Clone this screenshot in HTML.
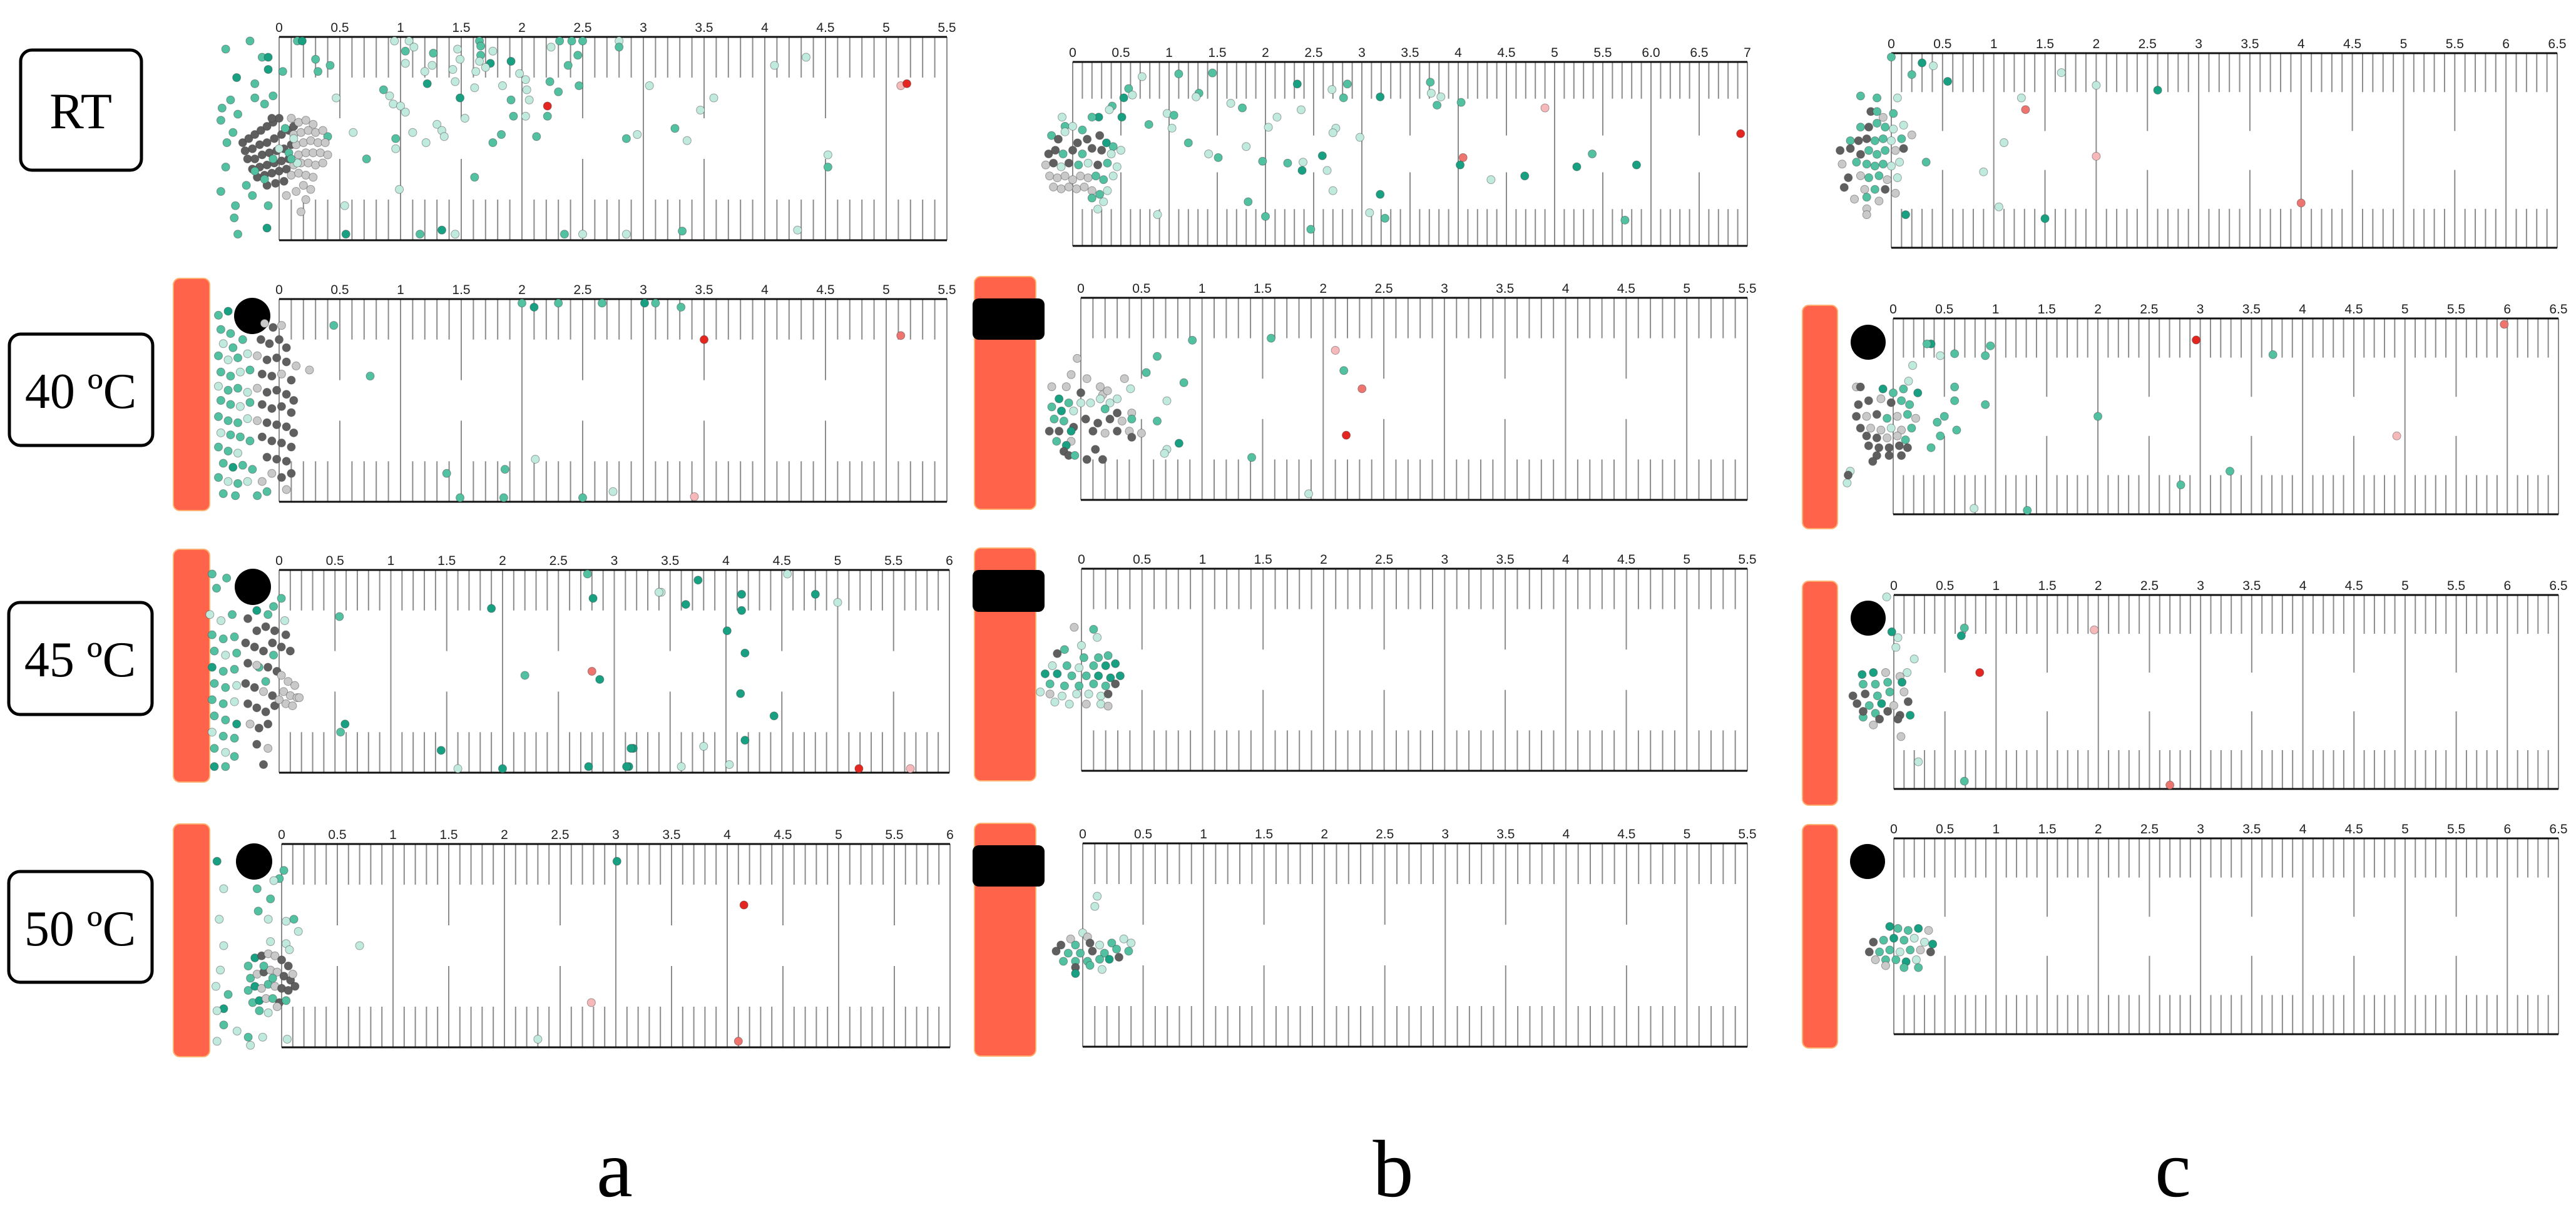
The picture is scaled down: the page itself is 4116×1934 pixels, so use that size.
<!DOCTYPE html>
<html><head><meta charset="utf-8"><style>
html,body{margin:0;padding:0;background:#fff;}
svg{display:block;}
.tl{font-family:"Liberation Sans",sans-serif;font-size:21px;fill:#222;text-anchor:middle;}
.cond{font-family:"Liberation Serif",serif;fill:#000;text-anchor:middle;}
</style></head><body>
<svg id="fig" width="4116" height="1934" viewBox="0 0 4116 1934" xmlns="http://www.w3.org/2000/svg">
<g>
<rect x="33" y="80" width="193" height="192" rx="18" fill="#fff" stroke="#000" stroke-width="5"/>
<text class="cond" x="129" y="205" font-size="82">RT</text>
<rect x="15" y="534" width="229" height="178" rx="18" fill="#fff" stroke="#000" stroke-width="5"/>
<text class="cond" x="129" y="652" font-size="80">40 ºC</text>
<rect x="14" y="963" width="229" height="179" rx="18" fill="#fff" stroke="#000" stroke-width="5"/>
<text class="cond" x="128" y="1081" font-size="80">45 ºC</text>
<rect x="14" y="1393" width="229" height="177" rx="18" fill="#fff" stroke="#000" stroke-width="5"/>
<text class="cond" x="128" y="1511" font-size="80">50 ºC</text>
</g>
<g>
<rect x="277" y="445" width="58" height="371" rx="10" fill="#ff634a" stroke="#ffb070" stroke-width="2"/>
<rect x="277" y="878" width="58" height="372" rx="10" fill="#ff634a" stroke="#ffb070" stroke-width="2"/>
<rect x="277" y="1317" width="58" height="372" rx="10" fill="#ff634a" stroke="#ffb070" stroke-width="2"/>
<rect x="1557" y="442" width="98" height="372" rx="10" fill="#ff634a" stroke="#ffb070" stroke-width="2"/>
<rect x="1557" y="876" width="98" height="372" rx="10" fill="#ff634a" stroke="#ffb070" stroke-width="2"/>
<rect x="1557" y="1316" width="98" height="372" rx="10" fill="#ff634a" stroke="#ffb070" stroke-width="2"/>
<rect x="2880" y="488" width="56" height="357" rx="10" fill="#ff634a" stroke="#ffb070" stroke-width="2"/>
<rect x="2880" y="929" width="56" height="358" rx="10" fill="#ff634a" stroke="#ffb070" stroke-width="2"/>
<rect x="2880" y="1318" width="56" height="357" rx="10" fill="#ff634a" stroke="#ffb070" stroke-width="2"/>
<circle cx="403" cy="505" r="29" fill="#000"/>
<circle cx="404" cy="938" r="29" fill="#000"/>
<circle cx="406" cy="1377" r="29" fill="#000"/>
<rect x="1554" y="477" width="115" height="66" rx="10" fill="#000"/>
<rect x="1554" y="911" width="115" height="67" rx="10" fill="#000"/>
<rect x="1554" y="1351" width="115" height="66" rx="10" fill="#000"/>
<circle cx="2985" cy="547" r="28" fill="#000"/>
<circle cx="2985" cy="988" r="28" fill="#000"/>
<circle cx="2984" cy="1377" r="28" fill="#000"/>
</g>
<text class="cond" x="982" y="1912" font-size="130">a</text>
<text class="cond" x="2226" y="1912" font-size="130">b</text>
<text class="cond" x="3472" y="1912" font-size="130">c</text>
</svg>
<script>
// ruler scales (max value per ruler)
const rulerMax = {aRT:5.5,a40:5.5,a45:6,a50:6,bRT:7,b40:5.5,b45:5.5,b50:5.5,cRT:6.5,c40:6.5,c45:6.5,c50:6.5};
const ticksBRT = ["0","0.5","1","1.5","2","2.5","3","3.5","4","4.5","5","5.5","6.0","6.5","7"];
// particle positions: [distance, vertical fraction, type]
const pts_aRT = [[0.15,.02,'M'],[0.19,.02,'D'],[0.95,.02,'L'],[1.07,.02,'L'],[1.04,.07,'M'],[1.11,.05,'L'],[1.27,.08,'M'],[1.26,.14,'L'],[1.04,.13,'L'],[1.2,.17,'L'],[1.22,.23,'D'],[1.47,.06,'L'],[1.49,.11,'L'],[1.43,.16,'L'],[1.45,.22,'L'],[1.49,.3,'D'],[1.53,.4,'L'],[1.65,.02,'M'],[1.66,.045,'M'],[1.66,.09,'M'],[1.65,.12,'L'],[1.62,.17,'L'],[1.76,.07,'L'],[1.74,.13,'D'],[1.7,.15,'L'],[1.61,.25,'L'],[1.91,.12,'D'],[1.98,.18,'L'],[2.03,.21,'L'],[2.04,.26,'L'],[2.06,.31,'L'],[1.91,.31,'M'],[1.93,.39,'M'],[2.03,.39,'L'],[1.84,.24,'L'],[2.21,.34,'R'],[2.24,.05,'L'],[2.31,.02,'M'],[2.41,.02,'M'],[2.5,.02,'M'],[2.46,.09,'M'],[2.38,.14,'M'],[2.23,.22,'M'],[2.3,.27,'M'],[2.47,.24,'M'],[2.21,.39,'M'],[2.8,.02,'L'],[2.8,.05,'M'],[3.05,.24,'L'],[3.58,.3,'L'],[3.47,.36,'L'],[3.26,.45,'M'],[3.36,.51,'L'],[2.95,.48,'L'],[2.86,.5,'M'],[4.08,.14,'L'],[4.34,.1,'L'],[5.12,.24,'P'],[5.17,.23,'R'],[4.52,.58,'L'],[4.52,.64,'M'],[0.86,.26,'M'],[0.91,.29,'L'],[0.94,.33,'L'],[1.0,.34,'L'],[1.04,.37,'L'],[0.47,.3,'L'],[0.61,.47,'L'],[0.72,.6,'M'],[0.96,.5,'M'],[0.96,.55,'L'],[1.1,.47,'L'],[1.21,.52,'L'],[1.3,.43,'L'],[1.34,.46,'L'],[1.36,.49,'L'],[1.61,.69,'M'],[0.99,.75,'L'],[1.76,.52,'M'],[1.83,.48,'M'],[2.12,.49,'M'],[0.54,.83,'L'],[0.55,.97,'D'],[1.16,.97,'M'],[1.34,.95,'D'],[1.45,.97,'L'],[2.35,.97,'M'],[2.5,.97,'L'],[2.86,.97,'L'],[3.32,.955,'M'],[4.27,.95,'L'],[0.03,.17,'M'],[0.3,.11,'M'],[0.32,.17,'M'],[0.42,.14,'M'],[0.4,.49,'M'],[-0.24,.02,'M'],[-0.44,.06,'M'],[-0.14,.1,'M'],[-0.09,.1,'D'],[-0.09,.16,'D'],[-0.35,.2,'D'],[-0.2,.23,'M'],[-0.05,.29,'M'],[-0.2,.3,'M'],[-0.12,.33,'M'],[-0.4,.31,'M'],[-0.47,.35,'M'],[-0.34,.38,'M'],[-0.48,.41,'M'],[-0.38,.47,'M'],[-0.43,.52,'M'],[-0.44,.64,'M'],[-0.48,.76,'M'],[-0.36,.83,'M'],[-0.37,.89,'M'],[-0.34,.97,'M'],[-0.1,.94,'D'],[-0.09,.83,'M'],[-0.22,.78,'M'],[-0.27,.73,'M'],
[-0.3,.52,'G'],[-0.25,.5,'G'],[-0.2,.48,'G'],[-0.15,.46,'G'],[-0.1,.44,'G'],[-0.05,.42,'G'],[0,.4,'G'],[-0.28,.56,'G'],[-0.22,.55,'G'],[-0.16,.53,'G'],[-0.1,.52,'G'],[-0.04,.5,'G'],[0.02,.48,'G'],[0.08,.46,'G'],[-0.26,.6,'G'],[-0.2,.6,'G'],[-0.14,.58,'G'],[-0.08,.57,'G'],[-0.02,.56,'G'],[0.04,.55,'G'],[0.1,.53,'G'],[-0.22,.65,'G'],[-0.16,.64,'G'],[-0.1,.63,'G'],[-0.04,.62,'G'],[0.02,.61,'G'],[0.08,.6,'G'],[-0.18,.69,'G'],[-0.12,.68,'G'],[-0.06,.67,'G'],[0,.66,'G'],[0.06,.65,'G'],[-0.1,.73,'G'],[-0.03,.72,'G'],[0.04,.71,'G'],[-0.06,.4,'G'],[0.12,.44,'G'],
[0.1,.4,'g'],[0.16,.42,'g'],[0.22,.41,'g'],[0.28,.43,'g'],[0.12,.48,'g'],[0.18,.47,'g'],[0.24,.46,'g'],[0.3,.47,'g'],[0.36,.46,'g'],[0.14,.53,'g'],[0.2,.52,'g'],[0.26,.51,'g'],[0.32,.52,'g'],[0.38,.52,'g'],[0.16,.58,'g'],[0.22,.57,'g'],[0.28,.57,'g'],[0.34,.57,'g'],[0.4,.58,'g'],[0.12,.63,'g'],[0.18,.62,'g'],[0.24,.62,'g'],[0.3,.63,'g'],[0.36,.62,'g'],[0.1,.68,'g'],[0.16,.67,'g'],[0.22,.68,'g'],[0.28,.69,'g'],[0.2,.73,'g'],[0.26,.75,'g'],[0.14,.76,'g'],[0.22,.8,'g'],[0.06,.78,'g'],[0.18,.86,'g'],
[0.05,.45,'M'],[0.12,.5,'L'],[0.0,.55,'L'],[0.08,.57,'M'],[0.15,.62,'L'],[-0.05,.6,'M'],[-0.2,.66,'M'],[-0.12,.7,'M'],[0.1,.6,'M']];
const pts_a40 = [[2.0,.02,'M'],[2.1,.04,'D'],[2.3,.02,'M'],[2.66,.02,'M'],[3.01,.02,'D'],[3.1,.02,'M'],[3.31,.04,'M'],[0.45,.13,'M'],[3.5,.2,'R'],[5.12,.18,'S'],[0.75,.38,'M'],[2.11,.79,'L'],[1.38,.86,'M'],[1.86,.84,'M'],[1.49,.98,'M'],[1.85,.98,'M'],[2.5,.98,'M'],[2.75,.95,'L'],[3.42,.975,'P'],[0.25,.35,'g'],
[-0.5,.08,'M'],[-0.42,.06,'D'],[-0.48,.15,'M'],[-0.4,.17,'M'],[-0.46,.22,'L'],[-0.38,.24,'M'],[-0.3,.2,'M'],[-0.5,.28,'M'],[-0.42,.3,'L'],[-0.34,.29,'M'],[-0.26,.27,'L'],[-0.48,.36,'M'],[-0.4,.38,'M'],[-0.32,.36,'L'],[-0.24,.35,'M'],[-0.5,.43,'L'],[-0.42,.45,'M'],[-0.34,.44,'M'],[-0.26,.46,'L'],[-0.48,.5,'M'],[-0.4,.52,'M'],[-0.32,.53,'L'],[-0.24,.51,'M'],[-0.5,.58,'M'],[-0.42,.6,'M'],[-0.34,.61,'M'],[-0.26,.59,'L'],[-0.48,.66,'L'],[-0.4,.67,'M'],[-0.32,.68,'M'],[-0.24,.7,'M'],[-0.5,.73,'M'],[-0.42,.75,'M'],[-0.34,.76,'L'],[-0.46,.81,'M'],[-0.38,.83,'D'],[-0.3,.82,'M'],[-0.22,.84,'M'],[-0.5,.88,'M'],[-0.42,.9,'L'],[-0.34,.91,'M'],[-0.26,.9,'L'],[-0.46,.96,'M'],[-0.36,.97,'M'],[-0.18,.97,'M'],[-0.1,.95,'M'],
[-0.12,.12,'g'],[-0.05,.14,'G'],[0.02,.13,'g'],[-0.15,.2,'G'],[-0.08,.22,'G'],[0,.2,'G'],[0.06,.24,'G'],[-0.18,.28,'g'],[-0.1,.3,'G'],[-0.02,.29,'G'],[0.06,.31,'G'],[0.14,.33,'g'],[-0.14,.37,'G'],[-0.06,.38,'G'],[0.02,.37,'g'],[0.1,.4,'G'],[-0.18,.44,'g'],[-0.1,.46,'G'],[-0.02,.45,'G'],[0.06,.47,'G'],[0.12,.5,'G'],[-0.14,.52,'G'],[-0.06,.54,'G'],[0.02,.53,'G'],[0.1,.56,'G'],[-0.18,.6,'g'],[-0.1,.61,'G'],[-0.02,.62,'G'],[0.06,.63,'G'],[0.12,.66,'G'],[-0.14,.68,'G'],[-0.06,.7,'G'],[0.02,.71,'G'],[0.1,.73,'G'],[-0.1,.78,'G'],[-0.02,.79,'G'],[0.06,.8,'G'],[0.1,.86,'G'],[-0.06,.86,'g'],[0.02,.88,'G'],[-0.14,.9,'g'],[0.06,.94,'g']];
const pts_a45 = [[2.76,.02,'M'],[2.81,.14,'D'],[1.9,.19,'D'],[3.42,.11,'L'],[0.54,.23,'M'],[2.2,.52,'M'],[2.8,.5,'S'],[2.87,.54,'D'],[0.59,.76,'D'],[0.55,.8,'M'],[1.45,.89,'D'],[1.6,.98,'L'],[2.0,.98,'D'],[2.77,.97,'D'],[3.13,.97,'D'],[3.17,.88,'D'],[3.75,.05,'D'],[3.4,.11,'L'],[3.64,.17,'D'],[4.14,.12,'D'],[4.14,.2,'D'],[4.55,.02,'L'],[4.8,.12,'D'],[5.0,.16,'L'],[4.01,.3,'D'],[4.17,.41,'D'],[4.13,.61,'D'],[4.43,.72,'D'],[4.17,.84,'D'],[3.8,.87,'L'],[3.15,.88,'D'],[3.11,.97,'D'],[3.6,.97,'L'],[4.03,.96,'L'],[5.19,.98,'R'],[5.65,.98,'P'],
[-0.6,.02,'M'],[-0.47,.04,'M'],[-0.56,.09,'M'],[-0.62,.22,'L'],[-0.52,.25,'L'],[-0.42,.22,'M'],[-0.6,.32,'M'],[-0.5,.34,'M'],[-0.4,.33,'M'],[-0.58,.4,'M'],[-0.48,.42,'L'],[-0.38,.41,'M'],[-0.6,.48,'D'],[-0.5,.5,'M'],[-0.4,.49,'M'],[-0.58,.56,'M'],[-0.48,.58,'M'],[-0.38,.57,'L'],[-0.6,.64,'M'],[-0.5,.66,'M'],[-0.4,.65,'L'],[-0.58,.72,'M'],[-0.48,.74,'M'],[-0.38,.76,'D'],[-0.6,.8,'L'],[-0.5,.82,'M'],[-0.4,.83,'M'],[-0.58,.88,'M'],[-0.48,.9,'L'],[-0.4,.92,'M'],[-0.58,.97,'D'],[-0.48,.97,'M'],[-0.2,.2,'D'],[-0.1,.22,'M'],[-0.18,.48,'M'],[-0.12,.55,'M'],[-0.05,.42,'M'],[0.05,.25,'L'],[-0.05,.18,'M'],[0.02,.14,'M'],
[-0.28,.24,'G'],[-0.2,.3,'G'],[-0.12,.28,'G'],[-0.04,.3,'G'],[0.06,.32,'G'],[-0.3,.36,'G'],[-0.22,.38,'G'],[-0.14,.4,'G'],[-0.06,.36,'G'],[0.02,.38,'G'],[0.1,.4,'G'],[-0.28,.46,'G'],[-0.2,.47,'g'],[-0.1,.48,'G'],[-0.02,.5,'G'],[-0.3,.56,'G'],[-0.22,.58,'G'],[-0.14,.6,'g'],[-0.06,.62,'G'],[-0.28,.66,'G'],[-0.2,.68,'G'],[-0.12,.7,'G'],[-0.04,.67,'G'],[-0.26,.76,'g'],[-0.18,.78,'G'],[-0.1,.76,'G'],[-0.2,.86,'G'],[-0.1,.88,'g'],[-0.14,.96,'G'],[0.02,.52,'g'],[0.08,.55,'g'],[0.14,.57,'g'],[0.04,.6,'g'],[0.1,.62,'g'],[0.16,.63,'g'],[0.06,.66,'g'],[0.12,.67,'g'],[0.18,.63,'g'],[0.0,.64,'g']];
const pts_a50 = [[3.01,.085,'D'],[0.7,.5,'L'],[2.78,.78,'P'],[2.3,.96,'L'],[0.05,.96,'L'],[4.15,.3,'R'],[4.1,.97,'S'],[-0.58,.085,'D'],[-0.52,.22,'L'],[-0.22,.22,'M'],[-0.1,.27,'M'],[0.02,.13,'M'],[-0.02,.17,'M'],[-0.07,.18,'L'],[-0.21,.33,'M'],[-0.56,.37,'L'],[-0.12,.37,'L'],[0.04,.38,'L'],[0.11,.37,'M'],[0.15,.43,'L'],[-0.52,.5,'L'],[-0.1,.48,'L'],[0.04,.49,'L'],[0.07,.52,'L'],[-0.55,.62,'L'],[-0.59,.7,'L'],[-0.48,.74,'M'],[-0.52,.81,'D'],[-0.58,.82,'L'],[-0.52,.89,'M'],[-0.4,.92,'L'],[-0.28,.99,'L'],[-0.17,.95,'L'],[-0.58,.97,'L'],[-0.3,.95,'M'],
[-0.3,.6,'M'],[-0.24,.56,'D'],[-0.18,.55,'G'],[-0.12,.54,'g'],[-0.06,.55,'g'],[0,.57,'G'],[0.06,.6,'G'],[-0.28,.66,'M'],[-0.22,.64,'g'],[-0.16,.63,'G'],[-0.1,.62,'g'],[-0.04,.63,'g'],[0.02,.65,'G'],[0.08,.67,'G'],[-0.3,.72,'M'],[-0.24,.7,'D'],[-0.18,.71,'g'],[-0.12,.69,'M'],[-0.06,.7,'g'],[0,.71,'G'],[0.06,.72,'G'],[0.12,.7,'G'],[-0.26,.78,'M'],[-0.2,.77,'D'],[-0.14,.76,'g'],[-0.08,.76,'M'],[-0.02,.78,'G'],[0.04,.77,'M'],[-0.2,.82,'M'],[-0.12,.83,'L'],[-0.04,.8,'g'],[-0.16,.6,'M'],[-0.08,.66,'M'],[0.1,.64,'g']];
const pts_bRT = [[0.72,.08,'L'],[1.1,.065,'M'],[1.45,.06,'M'],[0.58,.145,'M'],[0.62,.18,'L'],[0.53,.195,'D'],[0.41,.24,'M'],[0.38,.26,'L'],[0.27,.3,'D'],[0.2,.3,'M'],[0.51,.3,'D'],[-0.11,.3,'L'],[-0.08,.35,'M'],[0,.35,'L'],[0.1,.37,'M'],[0.79,.34,'M'],[0.98,.28,'L'],[1.05,.29,'M'],[1.03,.36,'L'],[1.2,.44,'M'],[1.31,.17,'M'],[1.28,.19,'L'],[1.64,.225,'L'],[1.76,.25,'M'],[1.41,.5,'L'],[1.51,.52,'M'],[1.8,.46,'L'],[1.97,.54,'M'],[1.82,.76,'M'],[2.0,.84,'M'],[0.88,.83,'L'],[2.12,.3,'L'],[2.03,.355,'L'],[2.33,.12,'D'],[2.37,.26,'L'],[2.23,.55,'M'],[2.39,.545,'L'],[2.38,.59,'D'],[2.59,.51,'D'],[2.64,.59,'L'],[2.7,.7,'L'],[2.47,.91,'M'],[2.69,.15,'L'],[2.81,.195,'M'],[2.85,.12,'M'],[2.73,.36,'L'],[2.7,.385,'L'],[2.98,.41,'L'],[3.19,.19,'D'],[3.19,.72,'D'],[3.08,.82,'L'],[3.24,.85,'M'],[3.71,.11,'M'],[3.72,.17,'L'],[3.82,.19,'L'],[3.78,.235,'M'],[4.03,.22,'M'],[4.05,.52,'S'],[4.02,.56,'D'],[4.34,.64,'L'],[4.69,.62,'D'],[4.9,.25,'P'],[6.93,.39,'R'],[5.39,.5,'M'],[5.23,.57,'D'],[5.85,.56,'D'],[5.73,.86,'M'],
[-0.22,.4,'M'],[-0.15,.42,'G'],[-0.08,.38,'L'],[0.05,.44,'G'],[0.15,.42,'G'],[0.28,.4,'G'],[0.35,.44,'D'],[0.42,.46,'M'],[-0.25,.5,'G'],[-0.18,.48,'G'],[-0.1,.5,'M'],[0,.48,'G'],[0.1,.5,'M'],[0.2,.47,'G'],[0.3,.48,'G'],[0.4,.5,'L'],[0.5,.48,'L'],[-0.28,.56,'g'],[-0.2,.55,'G'],[-0.12,.57,'L'],[-0.04,.55,'G'],[0.06,.56,'M'],[0.16,.55,'L'],[0.26,.56,'G'],[0.36,.55,'M'],[0.46,.57,'L'],[-0.24,.62,'g'],[-0.16,.63,'g'],[-0.08,.62,'g'],[0,.64,'g'],[0.08,.62,'g'],[0.16,.63,'g'],[0.24,.62,'M'],[0.32,.64,'M'],[0.42,.62,'L'],[-0.2,.68,'g'],[-0.12,.69,'g'],[-0.04,.68,'g'],[0.04,.69,'g'],[0.12,.68,'g'],[0.2,.7,'g'],[0.28,.72,'M'],[0.36,.7,'L'],[0.32,.76,'L'],[0.26,.8,'L'],[0.2,.74,'M']];
const pts_b40 = [[0.92,.21,'M'],[1.57,.2,'M'],[0.63,.29,'M'],[0.54,.37,'M'],[0.85,.42,'M'],[0.71,.51,'L'],[0.63,.61,'M'],[0.81,.72,'D'],[0.71,.75,'L'],[0.69,.77,'L'],[1.41,.79,'M'],[1.88,.97,'L'],[2.1,.26,'P'],[2.17,.36,'M'],[2.32,.45,'S'],[2.19,.68,'R'],[0.41,.45,'L'],[0.36,.4,'g'],
[-0.03,.3,'g'],[-0.08,.38,'g'],[0.05,.4,'g'],[-0.24,.44,'g'],[-0.12,.44,'g'],[0.0,.47,'G'],[0.16,.44,'g'],[0.18,.48,'g'],[0.22,.46,'g'],[-0.18,.5,'D'],[-0.1,.52,'M'],[0.0,.52,'L'],[0.08,.52,'L'],[0.16,.5,'L'],[0.24,.52,'L'],[0.3,.5,'L'],[-0.24,.54,'M'],[-0.16,.56,'D'],[-0.06,.56,'L'],[0.2,.55,'M'],[0.3,.57,'G'],[0.42,.57,'g'],[-0.22,.6,'M'],[-0.14,.61,'M'],[-0.06,.64,'G'],[0.04,.6,'G'],[0.14,.62,'G'],[0.24,.6,'G'],[0.34,.61,'g'],[0.42,.6,'M'],[-0.26,.66,'G'],[-0.18,.66,'G'],[-0.08,.66,'D'],[0.1,.66,'G'],[0.2,.67,'g'],[0.3,.66,'G'],[0.4,.66,'g'],[-0.2,.71,'M'],[-0.08,.71,'g'],[0.42,.69,'G'],[0.5,.67,'g'],[-0.12,.73,'D'],[-0.14,.76,'G'],[-0.1,.78,'G'],[-0.05,.78,'M'],[0.05,.8,'G'],[0.18,.8,'G'],[0.12,.75,'G']];
const pts_b45 = [[-0.06,.29,'g'],[0.1,.3,'M'],[0.13,.34,'L'],[0.0,.38,'L'],[-0.2,.42,'G'],[-0.14,.4,'M'],[0.02,.44,'M'],[0.14,.44,'M'],[0.22,.43,'M'],[-0.24,.48,'L'],[-0.12,.48,'M'],[-0.02,.49,'L'],[0.1,.48,'M'],[0.2,.48,'D'],[0.28,.47,'D'],[-0.3,.52,'D'],[-0.2,.52,'D'],[-0.08,.53,'M'],[0.04,.53,'M'],[0.14,.53,'D'],[0.24,.54,'D'],[0.32,.53,'D'],[-0.26,.57,'M'],[-0.14,.58,'M'],[-0.02,.58,'M'],[0.1,.57,'M'],[0.2,.58,'M'],[0.28,.57,'G'],[-0.34,.61,'L'],[-0.26,.62,'g'],[-0.16,.63,'L'],[-0.04,.62,'L'],[0.06,.62,'L'],[0.16,.63,'L'],[0.22,.62,'G'],[-0.22,.66,'L'],[-0.1,.67,'L'],[0.04,.67,'g'],[0.16,.67,'L'],[0.22,.68,'g']];
const pts_b50 = [[0.12,.26,'L'],[0.1,.31,'L'],[0.0,.44,'L'],[0.04,.46,'g'],[-0.1,.47,'g'],[-0.18,.5,'G'],[-0.06,.5,'M'],[0.06,.49,'G'],[0.14,.5,'L'],[0.24,.49,'M'],[0.34,.47,'L'],[0.4,.49,'L'],[-0.22,.53,'G'],[-0.12,.54,'M'],[-0.02,.54,'M'],[0.08,.53,'G'],[0.18,.54,'M'],[0.28,.52,'M'],[0.38,.53,'M'],[-0.16,.58,'M'],[-0.06,.58,'M'],[0.04,.58,'M'],[0.14,.57,'M'],[0.22,.57,'D'],[0.3,.56,'G'],[-0.06,.61,'G'],[0.06,.6,'M'],[-0.06,.64,'D'],[0.16,.62,'L']];
const pts_cRT = [[0,.02,'M'],[0.3,.05,'D'],[0.41,.065,'L'],[0.2,.11,'M'],[0.55,.145,'D'],[1.66,.1,'L'],[2.0,.165,'L'],[2.6,.19,'D'],[1.27,.23,'L'],[1.31,.29,'S'],[0.06,.23,'L'],[1.1,.46,'L'],[0.9,.61,'L'],[2.0,.53,'P'],[4.0,.77,'S'],[1.05,.79,'L'],[1.5,.85,'D'],[0.14,.83,'D'],[0.34,.56,'M'],[-0.3,.22,'M'],[-0.14,.23,'M'],
[-0.2,.3,'G'],[-0.14,.3,'M'],[-0.08,.33,'g'],[0.02,.31,'M'],[-0.3,.38,'M'],[-0.22,.38,'G'],[-0.14,.36,'M'],[-0.06,.38,'M'],[0.02,.39,'L'],[0.12,.37,'L'],[-0.4,.45,'M'],[-0.32,.45,'G'],[-0.24,.44,'G'],[-0.16,.45,'M'],[-0.08,.44,'M'],[0.0,.45,'L'],[0.1,.44,'M'],[0.2,.42,'g'],[-0.5,.5,'G'],[-0.4,.49,'G'],[-0.3,.52,'G'],[-0.22,.5,'M'],[-0.14,.52,'M'],[-0.06,.5,'M'],[0.04,.5,'g'],[0.12,.49,'G'],[-0.48,.57,'g'],[-0.34,.56,'M'],[-0.24,.57,'M'],[-0.16,.58,'M'],[-0.08,.57,'M'],[0.0,.58,'L'],[0.08,.56,'L'],[-0.42,.64,'G'],[-0.3,.63,'g'],[-0.22,.64,'M'],[-0.12,.63,'M'],[-0.04,.65,'g'],[0.06,.64,'L'],[-0.46,.69,'G'],[-0.26,.7,'g'],[-0.16,.7,'M'],[-0.06,.7,'G'],[0.04,.72,'g'],[-0.36,.75,'g'],[-0.24,.74,'M'],[-0.12,.76,'g'],[-0.24,.8,'g'],[-0.24,.83,'g']];
const pts_c40 = [[2.96,.11,'R'],[5.97,.03,'S'],[3.71,.185,'M'],[2.0,.5,'M'],[4.92,.6,'P'],[3.29,.78,'M'],[2.81,.85,'M'],[0.79,.97,'L'],[1.31,.98,'M'],[0.37,.13,'D'],[0.33,.13,'M'],[0.6,.18,'M'],[0.46,.19,'L'],[0.9,.19,'M'],[0.95,.14,'M'],[0.19,.24,'L'],[0.15,.32,'L'],[0.6,.35,'M'],[0.6,.42,'M'],[0.9,.44,'M'],[0.5,.5,'M'],[0.43,.53,'M'],[0.62,.57,'M'],[0.46,.6,'M'],[0.37,.66,'M'],[-0.42,.78,'L'],[-0.45,.84,'L'],[-0.44,.8,'G'],
[-0.36,.35,'g'],[-0.32,.35,'G'],[-0.1,.36,'D'],[0.0,.38,'M'],[0.1,.36,'M'],[0.24,.38,'D'],[-0.34,.44,'G'],[-0.24,.42,'G'],[-0.12,.41,'g'],[-0.02,.43,'G'],[0.08,.42,'M'],[0.16,.44,'M'],[-0.36,.5,'G'],[-0.26,.5,'g'],[-0.16,.49,'G'],[-0.06,.51,'M'],[0.04,.5,'g'],[0.14,.49,'M'],[0.22,.51,'g'],[-0.32,.56,'G'],[-0.22,.56,'g'],[-0.12,.57,'g'],[-0.02,.56,'L'],[0.08,.57,'g'],[0.18,.56,'M'],[-0.26,.6,'G'],[-0.16,.61,'G'],[-0.06,.61,'g'],[0.04,.6,'g'],[0.12,.62,'M'],[-0.24,.65,'G'],[-0.14,.66,'G'],[-0.04,.66,'G'],[0.06,.65,'G'],[0.14,.66,'G'],[-0.16,.7,'G'],[-0.04,.7,'G'],[0.08,.7,'G'],[-0.2,.73,'G']];
const pts_c45 = [[0.69,.17,'M'],[0.66,.21,'D'],[1.96,.18,'P'],[0.84,.4,'R'],[-0.07,.01,'L'],[-0.02,.19,'D'],[0.04,.22,'L'],[0.02,.27,'L'],[0.2,.33,'L'],[0.13,.4,'L'],[0.24,.86,'L'],[0.69,.96,'M'],[2.7,.98,'S'],[-0.31,.41,'D'],[-0.3,.63,'M'],[-0.2,.67,'g'],[0.07,.73,'g'],
[-0.2,.4,'D'],[-0.08,.4,'g'],[0.06,.42,'g'],[-0.3,.46,'M'],[-0.18,.46,'M'],[-0.06,.45,'M'],[0.08,.45,'D'],[-0.4,.52,'G'],[-0.28,.51,'G'],[-0.16,.52,'M'],[-0.04,.5,'M'],[0.1,.5,'g'],[-0.36,.56,'G'],[-0.24,.57,'M'],[-0.12,.56,'D'],[0.0,.57,'g'],[0.14,.55,'G'],[-0.3,.6,'G'],[-0.18,.61,'M'],[-0.06,.6,'G'],[0.06,.62,'G'],[0.16,.62,'D'],[-0.14,.64,'G'],[0.04,.64,'G']];
const pts_c50 = [[-0.04,.45,'D'],[0.04,.46,'M'],[0.14,.47,'M'],[0.24,.46,'D'],[0.34,.47,'g'],[-0.2,.53,'G'],[-0.1,.52,'M'],[0.0,.51,'D'],[0.1,.52,'M'],[0.2,.51,'L'],[0.3,.53,'L'],[0.38,.54,'D'],[-0.24,.58,'G'],[-0.14,.58,'M'],[-0.04,.57,'M'],[0.06,.58,'L'],[0.16,.57,'M'],[0.26,.57,'g'],[0.36,.58,'G'],[-0.18,.62,'g'],[-0.08,.62,'M'],[0.02,.62,'M'],[0.12,.63,'D'],[0.22,.62,'L'],[-0.08,.65,'g'],[0.1,.66,'M'],[0.24,.66,'M']];

const NS = "http://www.w3.org/2000/svg";
const svg = document.getElementById('fig');
const fills = {D:'#17a082',M:'#52c1a2',L:'#c0eade',G:'#5f5f5f',g:'#c9c9c9',R:'#e5251f',P:'#f6b8b8',S:'#ee7470'};
const rulers = [
 {id:'aRT',x0:446,x1:1513,top:59,bot:384,pts:pts_aRT},
 {id:'a40',x0:446,x1:1513,top:478,bot:802,pts:pts_a40},
 {id:'a45',x0:446,x1:1517,top:911,bot:1235,pts:pts_a45},
 {id:'a50',x0:450,x1:1518,top:1349,bot:1674,pts:pts_a50},
 {id:'bRT',x0:1714,x1:2792,top:99,bot:393,pts:pts_bRT},
 {id:'b40',x0:1727,x1:2792,top:476,bot:799,pts:pts_b40},
 {id:'b45',x0:1728,x1:2792,top:909,bot:1232,pts:pts_b45},
 {id:'b50',x0:1730,x1:2792,top:1348,bot:1673,pts:pts_b50},
 {id:'cRT',x0:3022,x1:4086,top:85,bot:396,pts:pts_cRT},
 {id:'c40',x0:3025,x1:4088,top:509,bot:822,pts:pts_c40},
 {id:'c45',x0:3026,x1:4088,top:951,bot:1261,pts:pts_c45},
 {id:'c50',x0:3026,x1:4088,top:1340,bot:1653,pts:pts_c50}];
function mk(tag, attrs, parent){const e=document.createElementNS(NS,tag);for(const k in attrs)e.setAttribute(k,attrs[k]);parent.appendChild(e);return e;}
rulers.forEach(r=>{
  const max = rulerMax[r.id];
  const sx = u => r.x0 + u*(r.x1-r.x0)/max;
  const h = r.bot - r.top;
  const sy = f => r.top + f*h;
  const g = mk('g',{},svg);
  
  
  const n = Math.round(max*10);
  for(let i=0;i<=n;i++){
    const x = sx(i/10);
    let segs;
    if(i%10===0 || i===n || i===0) segs=[[0,1]];
    else if(i%5===0) segs=[[0,0.4],[0.6,1]];
    else segs=[[0,0.2],[0.8,1]];
    segs.forEach(s=>{
      const ln = mk('line',{x1:x,x2:x,y1:sy(s[0]),y2:sy(s[1]),stroke:'#8c8c8c','stroke-width':2},g);
      
      
    });
    if(i%5===0){
      const v = i/10;
      const lab = r.id==='bRT' ? ticksBRT[i/5] : String(v);
      const t = mk('text',{x:x,y:r.top-8,class:'tl'},g);
      t.textContent = lab;
      
      
    }
  }
  const tb = mk('line',{x1:r.x0,x2:r.x1,y1:r.top,y2:r.top,stroke:'#111','stroke-width':3},g);
  
  
  const bb = mk('line',{x1:r.x0,x2:r.x1,y1:r.bot,y2:r.bot,stroke:'#111','stroke-width':3},g);
  
  
  r.pts.forEach(p=>{
    const c = mk('circle',{cx:sx(p[0]),cy:sy(p[1]),r:6.5,fill:fills[p[2]],stroke:'rgba(60,60,60,0.45)','stroke-width':1},g);
    
    
  });
});
</script>
</body></html>
